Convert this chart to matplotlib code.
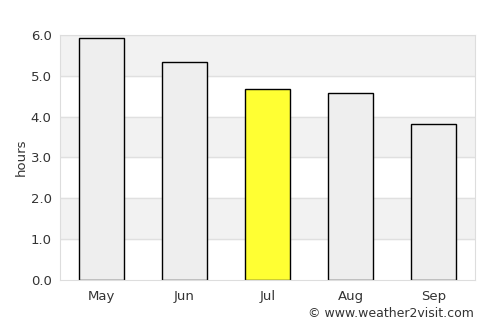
import matplotlib
matplotlib.use('Agg')
import matplotlib.pyplot as plt

months = ['May', 'Jun', 'Jul', 'Aug', 'Sep']
hours = [5.93, 5.35, 4.68, 4.58, 3.82]
colors = ['#eeeeee', '#eeeeee', '#ffff33', '#eeeeee', '#eeeeee']

fig = plt.figure(figsize=(5, 3.25), dpi=100)
ax = fig.add_axes([0.12, 0.1385, 0.83, 0.7538])

# alternating background bands
for y0 in [1, 3, 5]:
    ax.axhspan(y0, y0 + 1, color='#f2f2f2', zorder=0)
for y in range(1, 7):
    ax.axhline(y, color='#e0e0e0', lw=1, zorder=0.5)

x = range(len(months))
ax.bar(x, hours, width=0.54, color=colors, edgecolor='black', linewidth=1, zorder=2)

ax.set_xlim(-0.5, len(months) - 0.5)
ax.set_ylim(0, 6)
ax.set_yticks([0, 1, 2, 3, 4, 5, 6])
ax.set_yticklabels(['%.1f' % v for v in [0, 1, 2, 3, 4, 5, 6]])
ax.set_xticks(list(x))
ax.set_xticklabels(months)
ax.tick_params(length=0, colors='#333333', labelsize=9.5)
ax.tick_params(axis='x', pad=7)
ax.tick_params(axis='y', pad=6)
ax.set_ylabel('hours', color='#333333', fontsize=9.5, labelpad=2)

for s in ax.spines.values():
    s.set_color('#dddddd')

fig.text(0.948, 0.015, '\u00a9 www.weather2visit.com', ha='right', va='bottom',
         fontsize=9, color='#333333')

fig.savefig('out.png', dpi=100)
